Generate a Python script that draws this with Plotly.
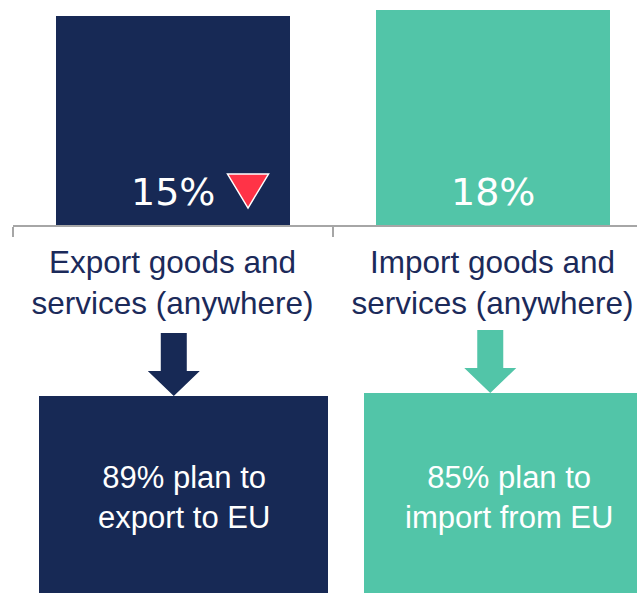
import plotly.graph_objects as go

# ---- data ----
categories = ["Export goods and<br>services (anywhere)",
              "Import goods and<br>services (anywhere)"]
bar_labels = ["15%", "18%"]
bar_heights = [97, 100]          # visible bar heights (relative units)
followup_labels = ["89% plan to<br>export to EU",
                   "85% plan to<br>import from EU"]
followup_values = [89, 85]
box_extent = [197, 200]          # visible height of the follow-up boxes

NAVY = "#172955"
TEAL = "#52C5A8"
GREY = "#A6A6A6"
RED = "#FF3347"
colors = [NAVY, TEAL]

W, H = 637, 593
fig = go.Figure()

# top bars
fig.add_trace(go.Bar(
    x=[0, 1], y=bar_heights, width=0.734, marker=dict(color=colors, line=dict(width=0)),
    xaxis="x", yaxis="y", hoverinfo="skip", showlegend=False))

# follow-up boxes
fig.add_trace(go.Bar(
    x=[0, 1], y=box_extent, width=0.889, marker=dict(color=colors, line=dict(width=0)),
    customdata=followup_values,
    xaxis="x2", yaxis="y2", hoverinfo="skip", showlegend=False))

annotations = []
for i, lab in enumerate(bar_labels):
    annotations.append(dict(
        x=i, y=15.3, xref="x", yref="y", text=lab, showarrow=False,
        xanchor="center", yanchor="middle",
        font=dict(family="DejaVu Sans, Verdana, sans-serif", size=38, color="white")))
for i, lab in enumerate(followup_labels):
    annotations.append(dict(
        x=i, y=95, xref="x2", yref="y2", text=lab, showarrow=False,
        xanchor="center", yanchor="middle",
        font=dict(family="Liberation Sans, Arial, sans-serif", size=31, color="white")))

shapes = []
# red down triangle next to 15%
shapes.append(dict(
    type="path", xref="x", yref="y", xsizemode="pixel", ysizemode="pixel",
    xanchor=0.236, yanchor=15.8,
    path="M-20.5,17 L20.5,17 L0,-17 Z",
    fillcolor=RED, line=dict(color="white", width=1.5), layer="above"))

# block arrows pointing down to the boxes
arrow_path = "M0,0 L-26,25 L-13,25 L-13,63 L13,63 L13,25 L26,25 Z"
for i, (c, tip) in enumerate(zip(colors, [(H - 396) / H, (H - 393) / H])):
    shapes.append(dict(
        type="path", xref="x", yref="paper", xsizemode="pixel", ysizemode="pixel",
        xanchor=i + (0.004 if i == 0 else -0.007), yanchor=tip,
        path=arrow_path, fillcolor=c, line=dict(width=0), layer="above"))

x_left = 12.5 / W
px_per_cat = 320
fig.update_layout(
    width=W, height=H,
    margin=dict(l=0, r=0, t=0, b=0),
    paper_bgcolor="white", plot_bgcolor="rgba(0,0,0,0)",
    bargap=0,
    xaxis=dict(
        domain=[x_left, 1], range=[-0.5, -0.5 + (W - 12.5) / px_per_cat],
        anchor="y", tickmode="array", tickvals=[0, 1], ticktext=categories,
        ticks="", showgrid=False, zeroline=False, ticklabelstandoff=8,
        showline=True, linecolor=GREY, linewidth=2,
        tickfont=dict(family="Liberation Sans, Arial, sans-serif", size=31.5, color="#1B2A5A"),
        minor=dict(tickmode="array", tickvals=[-0.5, 0.5, 1.5], ticks="outside",
                   ticklen=10, tickwidth=2, tickcolor=GREY, showgrid=False),
        fixedrange=True),
    yaxis=dict(domain=[(H - 225) / H, 1], range=[0, 104.65], visible=False,
               anchor="x", fixedrange=True),
    xaxis2=dict(domain=[0, 1], range=[-183.5 / 325, -183.5 / 325 + W / 325],
                anchor="y2", visible=False, fixedrange=True),
    yaxis2=dict(domain=[0, 200 / H], range=[0, 200], visible=False,
                anchor="x2", fixedrange=True),
    annotations=annotations,
    shapes=shapes,
)

fig.write_html("out.html", config={"displayModeBar": False},
               post_script="document.body.style.margin='0px';document.body.style.padding='0px';")
